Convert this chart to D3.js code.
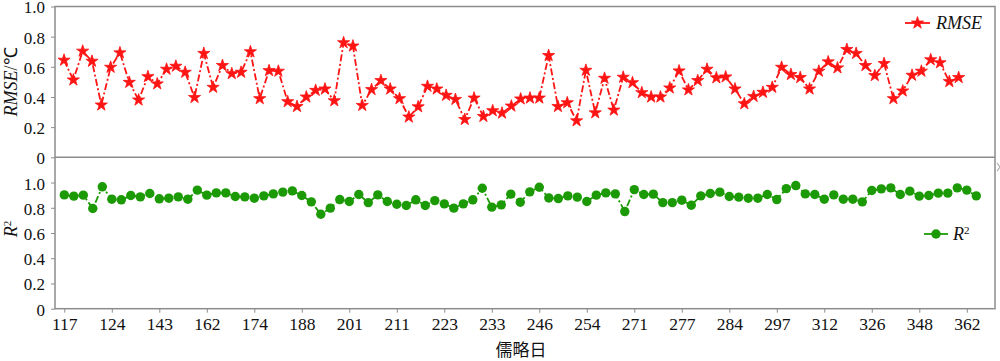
<!DOCTYPE html>
<html><head><meta charset="utf-8">
<script src="https://cdn.jsdelivr.net/npm/d3@7"></script>
<style>body{margin:0;background:#fff}svg{display:block}</style>
</head><body>
<svg id="c" width="1000" height="361"></svg>
<script>
const rmse = [0.644,0.513,0.704,0.637,0.347,0.597,0.693,0.497,0.38,0.535,0.487,0.584,0.604,0.564,0.397,0.689,0.464,0.609,0.555,0.564,0.70,0.389,0.575,0.571,0.369,0.337,0.40,0.444,0.453,0.375,
0.76,0.738,0.344,0.449,0.509,0.453,0.389,0.267,0.335,0.471,0.453,0.411,0.384,0.251,0.393,0.271,0.309,0.293,0.34,0.387,0.393,0.393,0.675,0.337,0.362,0.242,0.577,0.295,0.524,0.313,0.531,0.495,0.429,0.40,0.40,
0.46,0.573,0.447,0.509,0.584,0.527,0.533,0.453,0.355,0.404,0.431,0.464,0.597,0.549,0.529,0.453,0.571,0.633,0.593,0.715,0.689,0.609,0.542,0.622,0.389,0.44,0.544,0.571,0.647,0.627,0.502,0.529];
const r2 = [0.902,0.892,0.90,0.794,0.966,0.868,0.863,0.897,0.886,0.913,0.871,0.876,0.886,0.868,0.94,0.90,0.918,0.918,0.889,0.886,0.876,0.894,0.91,0.924,0.934,0.897,0.847,0.749,0.797,0.865,
0.85,0.905,0.841,0.902,0.85,0.828,0.818,0.863,0.818,0.857,0.831,0.797,0.831,0.863,0.955,0.805,0.823,0.908,0.844,0.926,0.963,0.878,0.873,0.894,0.884,0.85,0.90,0.918,0.91,0.77,0.944,0.905,0.908,0.841,
0.841,0.86,0.82,0.894,0.913,0.924,0.889,0.884,0.876,0.876,0.905,0.865,0.952,0.976,0.91,0.905,0.868,0.902,0.868,0.868,0.847,0.937,0.95,0.958,0.905,0.932,0.892,0.897,0.916,0.916,0.958,0.94,0.894];
const tickLabels = ["117","124","143","162","174","188","201","211","223","233","246","254","271","277","284","297","312","326","348","362"];
const yTicksTop = [0,0.2,0.4,0.6,0.8,1.0];
const yTicksBot = [0,0.2,0.4,0.6,0.8,1.0];

const svg = d3.select("#c");
const L = 55, R = 995, T1 = 6.5, B1 = 157.3, B2 = 308.7;
const FONT = "'Liberation Serif','Times New Roman',serif";
const axisCol = "#8c8c8c";
const red = "#ff1414", green = "#1c9a06";

const xTop = d3.scaleLinear().domain([-0.97, 99.9]).range([L, R]);
const xBot = d3.scaleLinear().domain([-0.98, 97.97]).range([L, R]);
const yTop = d3.scaleLinear().domain([0, 1.0]).range([B1, T1]);
const yBot = d3.scaleLinear().domain([0, 1.2]).range([B2, B1]);

// frames
svg.append("rect").attr("x", L).attr("y", T1).attr("width", R - L).attr("height", B2 - T1)
  .attr("fill", "none").attr("stroke", axisCol).attr("stroke-width", 1.5);
svg.append("line").attr("x1", L).attr("x2", R).attr("y1", B1).attr("y2", B1)
  .attr("stroke", axisCol).attr("stroke-width", 1.5);
svg.append("path").attr("d", "M997,163 L1000,167 L997,171").attr("fill","none").attr("stroke","#aaa").attr("stroke-width",1.2);

function styleAxis(size){
  return g => {
    g.select(".domain").remove();
    g.selectAll(".tick line").attr("stroke", axisCol);
    g.selectAll(".tick text").attr("fill", "#111").style("font-family", FONT).style("font-size", size + "px");
  };
}
const fmt = d => d === 0 ? "0" : d.toFixed(1);
svg.append("g").attr("transform", `translate(${L},0)`)
  .call(d3.axisLeft(yTop).tickValues(yTicksTop).tickFormat(fmt).tickSize(4).tickPadding(6)).call(styleAxis(17))
  .selectAll(".tick text").attr("dy", "0.38em");
svg.append("g").attr("transform", `translate(${L},0)`)
  .call(d3.axisLeft(yBot).tickValues(yTicksBot.filter(v => v > 0)).tickFormat(fmt).tickSize(4).tickPadding(6)).call(styleAxis(17))
  .selectAll(".tick text").attr("dy", "0.38em");
svg.append("g").attr("transform", `translate(${L},0)`)
  .call(d3.axisLeft(yBot).tickValues([0]).tickFormat(fmt).tickSize(4).tickPadding(6)).call(styleAxis(17))
  .selectAll(".tick text").attr("dy", "0.38em");
svg.append("g").attr("transform", `translate(0,${B2})`)
  .call(d3.axisBottom(xBot).tickValues(tickLabels.map((d, i) => i * 5)).tickFormat((d, i) => tickLabels[i]).tickSize(4).tickPadding(5))
  .call(styleAxis(17.5));

// lines
const dash = "7,2.5,2,2.5";
svg.append("path").datum(rmse)
  .attr("d", d3.line().x((d, i) => xTop(i)).y(d => yTop(d)))
  .attr("fill", "none").attr("stroke", red).attr("stroke-width", 1.8).attr("stroke-dasharray", dash);
svg.append("path").datum(r2)
  .attr("d", d3.line().x((d, i) => xBot(i)).y(d => yBot(d)))
  .attr("fill", "none").attr("stroke", green).attr("stroke-width", 1.8).attr("stroke-dasharray", dash);

const star = d3.symbol().type(d3.symbolStar).size(46);
svg.append("g").selectAll("path").data(rmse).join("path")
  .attr("d", star).attr("transform", (d, i) => `translate(${xTop(i)},${yTop(d)})`)
  .attr("fill", red).attr("stroke", red).attr("stroke-width", 0.8).attr("stroke-linejoin", "round");
svg.append("g").selectAll("circle").data(r2).join("circle")
  .attr("cx", (d, i) => xBot(i)).attr("cy", d => yBot(d)).attr("r", 4.7).attr("fill", green);

// axis titles
const t1 = svg.append("text").attr("transform", `translate(17,${(T1 + B1) / 2}) rotate(-90)`)
  .attr("text-anchor", "middle").style("font-family", FONT).style("font-size", "18px").attr("fill", "#111");
t1.append("tspan").attr("font-style", "italic").text("RMSE");
t1.append("tspan").text("/℃");
const t2 = svg.append("text").attr("transform", `translate(17,${(B1 + B2) / 2 - 4}) rotate(-90)`)
  .attr("text-anchor", "middle").style("font-family", FONT).style("font-size", "18px").attr("fill", "#111");
t2.append("tspan").attr("font-style", "italic").text("R");
t2.append("tspan").attr("dy", -6).style("font-size", "11px").text("2");
svg.append("text").attr("x", 521).attr("y", 356).attr("text-anchor", "middle")
  .style("font-family", "'Noto Sans CJK SC'").style("font-size", "17px").attr("fill", "#111").text("儒略日");

// legends
const lg1 = svg.append("g");
lg1.append("line").attr("x1", 905).attr("x2", 930).attr("y1", 23).attr("y2", 23).attr("stroke", red).attr("stroke-width", 1.8);
lg1.append("path").attr("d", star).attr("transform", "translate(917.5,23)").attr("fill", red).attr("stroke", red).attr("stroke-width", 0.8);
lg1.append("text").attr("x", 936).attr("y", 29).style("font-family", FONT).style("font-size", "18px")
  .attr("font-style", "italic").attr("fill", "#111").text("RMSE");
const lg2 = svg.append("g");
lg2.append("line").attr("x1", 924).attr("x2", 948).attr("y1", 234).attr("y2", 234).attr("stroke", green).attr("stroke-width", 1.8);
lg2.append("circle").attr("cx", 936).attr("cy", 234).attr("r", 4.7).attr("fill", green);
const lt = lg2.append("text").attr("x", 953).attr("y", 240).style("font-family", FONT).style("font-size", "18px").attr("fill", "#111");
lt.append("tspan").attr("font-style", "italic").text("R");
lt.append("tspan").attr("dy", -6).style("font-size", "11px").text("2");
</script>
</body></html>
